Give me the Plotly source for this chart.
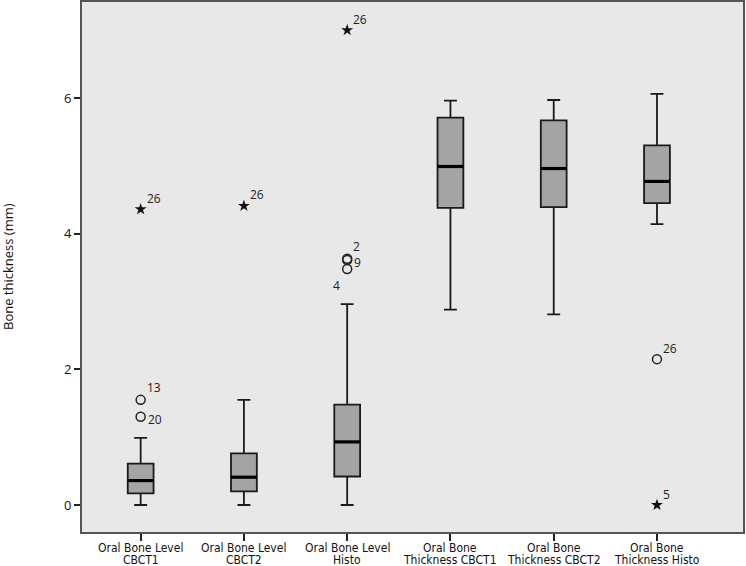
import plotly.graph_objects as go

cat_line1 = ["Oral Bone Level", "Oral Bone Level", "Oral Bone Level",
             "Oral Bone", "Oral Bone", "Oral Bone"]
cat_line2 = ["CBCT1", "CBCT2", "Histo",
             "Thickness CBCT1", "Thickness CBCT2", "Thickness Histo"]
lower_whisker = [0.0, 0.0, 0.0, 2.88, 2.81, 4.14]
q1 = [0.17, 0.20, 0.42, 4.38, 4.39, 4.45]
median = [0.36, 0.41, 0.93, 4.99, 4.96, 4.77]
q3 = [0.61, 0.76, 1.48, 5.71, 5.67, 5.30]
upper_whisker = [0.99, 1.55, 2.96, 5.96, 5.97, 6.06]

# outliers: (category index, value, case label, kind)
outlier_cat = [0, 0, 0, 1, 2, 2, 2, 2, 5, 5]
outlier_val = [1.55, 1.30, 4.36, 4.41, 3.63, 3.61, 3.48, 7.00, 2.15, 0.00]
outlier_lbl = ["13", "20", "26", "26", "2", "9", "4", "26", "26", "5"]
outlier_kind = ["o", "o", "*", "*", "o", "o", "o", "*", "o", "*"]

y_ticks = [0, 2, 4, 6]
y_title = "Bone thickness (mm)"

font_family = "DejaVu Sans Condensed, Liberation Sans Narrow, Liberation Sans, sans-serif"
label_font = dict(size=12, color="#222222", family="Open Sans, sans-serif")
cat_font = dict(size=12, family=font_family, color="#111111")
box_w = 0.25
xs = list(range(len(cat_line1)))

fig = go.Figure()
fig.add_trace(go.Box(
    x=xs, q1=q1, median=median, q3=q3,
    lowerfence=lower_whisker, upperfence=upper_whisker,
    width=box_w, whiskerwidth=0.5,
    fillcolor="#a4a4a4", line=dict(color="#1a1a1a", width=1.8),
    boxpoints=False, hoverinfo="skip", showlegend=False,
))

# thick median lines
for i, m in enumerate(median):
    fig.add_trace(go.Scatter(
        x=[xs[i] - box_w / 2, xs[i] + box_w / 2], y=[m, m], mode="lines",
        line=dict(color="#000000", width=3.2), showlegend=False, hoverinfo="skip"))

circ_x = [xs[c] for c, k in zip(outlier_cat, outlier_kind) if k == "o"]
circ_y = [v for v, k in zip(outlier_val, outlier_kind) if k == "o"]
star_x = [xs[c] for c, k in zip(outlier_cat, outlier_kind) if k == "*"]
star_y = [v for v, k in zip(outlier_val, outlier_kind) if k == "*"]

fig.add_trace(go.Scatter(
    x=circ_x, y=circ_y, mode="markers",
    marker=dict(symbol="circle-open", size=9, color="#222222", line=dict(width=1.5)),
    showlegend=False, hoverinfo="skip"))
fig.add_trace(go.Scatter(
    x=star_x, y=star_y, mode="markers",
    marker=dict(symbol="star", size=9, color="#111111", line=dict(width=0)),
    showlegend=False, hoverinfo="skip"))

# label placement (styling): (xanchor, xshift, yshift)
label_offsets = {
    (2, "2"): ("left", 4, 12),
    (2, "9"): ("left", 5, -2),
    (2, "4"): ("right", -5, -17),
    (0, "13"): ("left", 4, 12),
    (0, "20"): ("left", 5, -3),
}
for c, v, lbl in zip(outlier_cat, outlier_val, outlier_lbl):
    xa, xsft, ysft = label_offsets.get((c, lbl), ("left", 4, 11))
    fig.add_annotation(x=xs[c], y=v, text=lbl, showarrow=False, xanchor=xa,
                       xshift=xsft, yshift=ysft, font=label_font)

# two-line category labels
for i in range(len(xs)):
    fig.add_annotation(x=xs[i], xref="x", y=0, yref="paper", text=cat_line1[i], showarrow=False,
                       xanchor="center", yanchor="top", yshift=-8, borderpad=0, font=cat_font)
    fig.add_annotation(x=xs[i], xref="x", y=0, yref="paper", text=cat_line2[i], showarrow=False,
                       xanchor="center", yanchor="top", yshift=-19.5, borderpad=0, font=cat_font)

fig.add_annotation(xref="paper", yref="paper", x=-(82 - 8) / 661, y=0.5,
                   text=y_title, textangle=-90, showarrow=False, xanchor="center", yanchor="middle",
                   font=dict(size=13, color="#111111", family="Open Sans, sans-serif"))

fig.update_layout(
    width=746, height=566,
    margin=dict(l=82, r=3, t=2, b=34),
    paper_bgcolor="white", plot_bgcolor="#e8e8e8",
    font=dict(family=font_family, size=13, color="#111111"),
)
fig.update_xaxes(
    range=[-0.568, 5.833], tickmode="array", tickvals=xs, showticklabels=False,
    automargin=False,
    ticks="outside", ticklen=7, tickwidth=1.5, tickcolor="#222222",
    showline=True, linecolor="#555555", linewidth=2, mirror=True,
    showgrid=False, zeroline=False,
)
fig.update_yaxes(
    range=[-0.398, 7.415], tickmode="array", tickvals=y_ticks, automargin=False,
    ticks="outside", ticklen=6, tickwidth=1.5, tickcolor="#222222",
    showline=True, linecolor="#555555", linewidth=2, mirror=True,
    showgrid=False, zeroline=False, tickfont=dict(size=13, family="Open Sans, sans-serif"),
)

fig.write_html("out.html", config={"displayModeBar": False},
               post_script="document.body.style.margin='0';document.body.style.overflow='hidden';")
